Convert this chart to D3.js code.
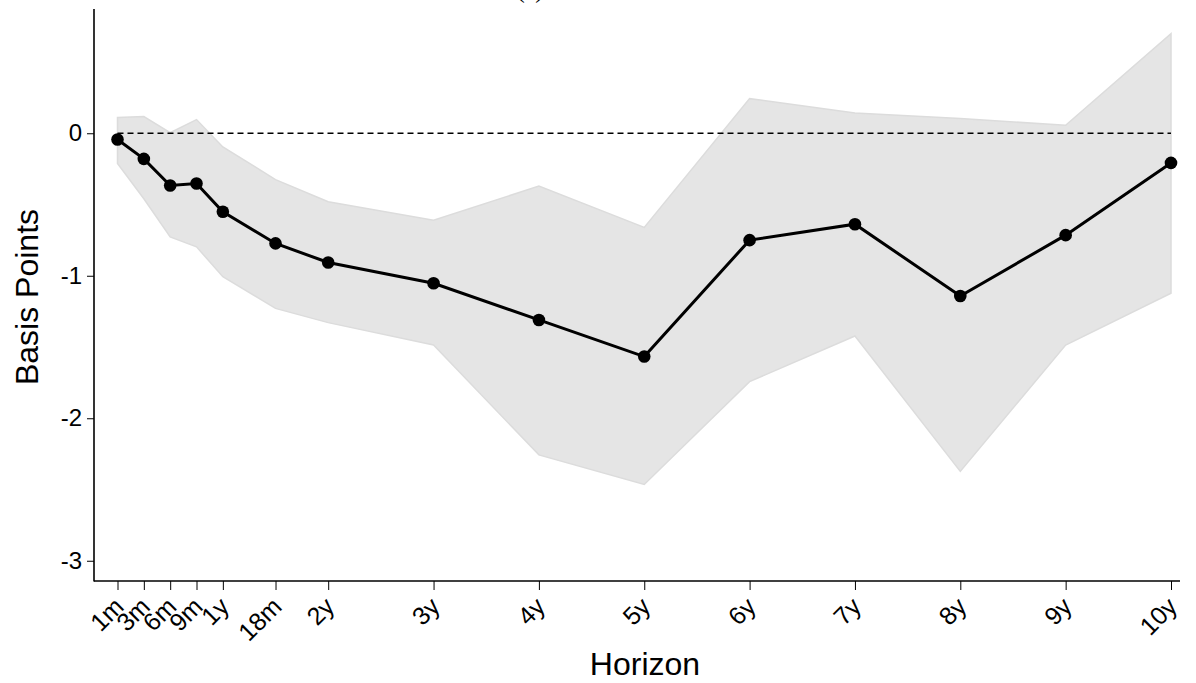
<!DOCTYPE html>
<html>
<head>
<meta charset="utf-8">
<script src="https://cdn.jsdelivr.net/npm/d3@7"></script>
<style>
html,body{margin:0;padding:0;background:#fff;}
svg{display:block;font-family:"Liberation Sans",Arial,sans-serif;}
</style>
</head>
<body>
<svg id="chart" width="1196" height="683"></svg>
<script>
// Horizon labels and their positions on the axis (in quarters)
const horizons = ["1m","3m","6m","9m","1y","18m","2y","3y","4y","5y","6y","7y","8y","9y","10y"];
const horizonQuarters = [0,1,2,3,4,6,8,12,16,20,24,28,32,36,40];
// Point estimates (basis points)
const estimate = [-0.044,-0.18,-0.367,-0.353,-0.551,-0.773,-0.907,-1.053,-1.31,-1.567,-0.75,-0.638,-1.142,-0.715,-0.208];
// Confidence band
const upper = [0.11,0.117,0.005,0.096,-0.096,-0.325,-0.481,-0.61,-0.371,-0.661,0.243,0.142,0.103,0.056,0.699];
const lower = [-0.212,-0.46,-0.727,-0.797,-1.007,-1.229,-1.329,-1.486,-2.257,-2.465,-1.743,-1.423,-2.373,-1.486,-1.123];
const yTicks = [0,-1,-2,-3];
const title = "(a)";

const svg = d3.select("#chart");
const x = d3.scaleLinear().domain([0,40]).range([117.5,1171]);
const y = d3.scaleLinear().domain([-3.142,0.872]).range([581,9]);
const axisLeftX = 94, axisRightX = 1180;
const FONT = "'Liberation Sans',Arial,sans-serif";

const data = horizons.map((h,i)=>({h,q:horizonQuarters[i],e:estimate[i],u:upper[i],l:lower[i]}));

// band
svg.append("path")
  .datum(data)
  .attr("d", d3.area().x(d=>x(d.q)).y0(d=>y(d.l)).y1(d=>y(d.u)))
  .attr("fill","#e5e5e5")
  .attr("stroke","#dcdcdc")
  .attr("stroke-width",1.5);

// zero line
svg.append("line")
  .attr("x1",x(0)).attr("x2",x(40))
  .attr("y1",y(0)).attr("y2",y(0))
  .attr("stroke","#000").attr("stroke-width",1.5)
  .attr("stroke-dasharray","6,4");

// estimate line
svg.append("path")
  .datum(data)
  .attr("d", d3.line().x(d=>x(d.q)).y(d=>y(d.e)))
  .attr("fill","none").attr("stroke","#000").attr("stroke-width",3);

svg.selectAll("circle.pt").data(data).enter().append("circle")
  .attr("class","pt")
  .attr("cx",d=>x(d.q)).attr("cy",d=>y(d.e)).attr("r",6.3).attr("fill","#000");

// Y axis
const yAxis = d3.axisLeft(y).tickValues(yTicks).tickFormat(d=>String(d)).tickSize(7).tickPadding(5);
const gy = svg.append("g").attr("transform",`translate(${axisLeftX},0)`).call(yAxis);
gy.select(".domain").remove();
gy.append("line").attr("x1",0).attr("x2",0).attr("y1",9).attr("y2",581.5).attr("stroke","#000").attr("stroke-width",1.6);
gy.selectAll(".tick line").attr("stroke","#000").attr("stroke-width",1);
gy.selectAll(".tick text").attr("font-size",24).attr("fill","#000").attr("font-family",FONT);

// X axis
const xAxis = d3.axisBottom(x).tickValues(horizonQuarters).tickFormat((d,i)=>horizons[i]).tickSize(9).tickPadding(3);
const gx = svg.append("g").attr("transform",`translate(0,581)`).call(xAxis);
gx.select(".domain").remove();
gx.append("line").attr("x1",axisLeftX).attr("x2",axisRightX).attr("y1",0).attr("y2",0).attr("stroke","#000").attr("stroke-width",1.6);
gx.selectAll(".tick line").attr("stroke","#000").attr("stroke-width",1);
gx.selectAll(".tick text")
  .attr("font-size",25).attr("fill","#000").attr("font-family",FONT)
  .attr("text-anchor","end")
  .attr("dy","0.35em")
  .attr("transform","translate(1,21) rotate(-45)")
  .attr("y",0).attr("x",0);

// axis titles
svg.append("text")
  .attr("x",645).attr("y",675)
  .attr("text-anchor","middle").attr("font-size",32).attr("fill","#000").attr("font-family",FONT)
  .text("Horizon");
svg.append("text")
  .attr("transform",`translate(38,297) rotate(-90)`)
  .attr("text-anchor","middle").attr("font-size",32).attr("fill","#000").attr("font-family",FONT)
  .text("Basis Points");

// title (mostly cut off at top, as in the reference)
svg.append("text")
  .attr("x",530).attr("y",-2)
  .attr("text-anchor","middle").attr("font-size",24).attr("fill","#000")
  .attr("font-family","'Liberation Serif',serif")
  .text(title);
</script>
</body>
</html>
